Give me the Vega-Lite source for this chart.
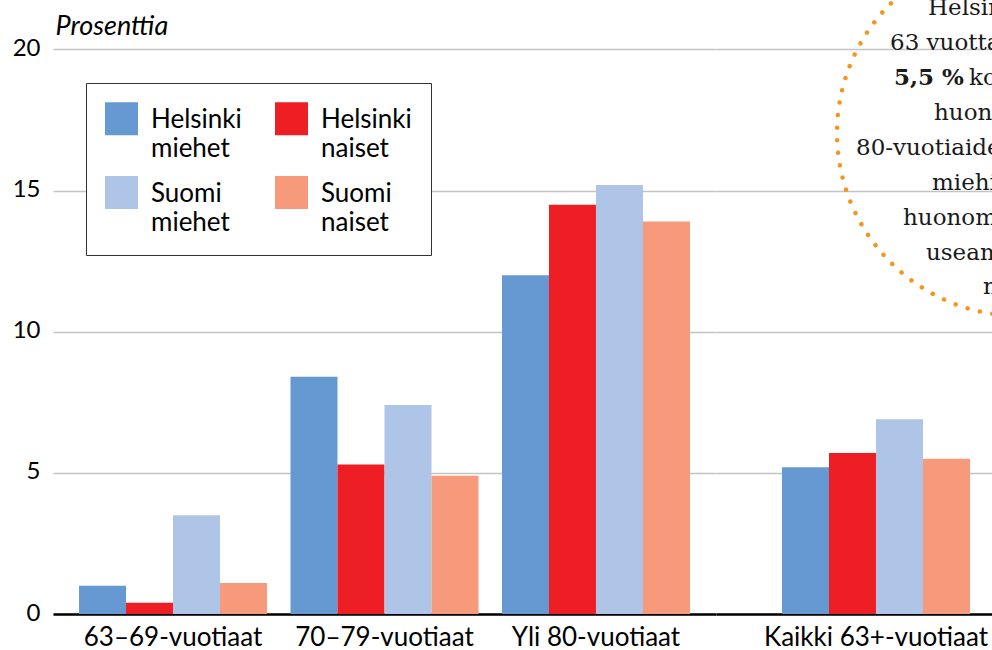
{
  "$schema": "https://vega.github.io/schema/vega-lite/v6.json",
  "padding": {"left": 5, "top": 0, "right": 0, "bottom": 0},
  "background": "white",
  "config": {
    "font": "Lato",
    "view": {"stroke": null},
    "style": {"guide-label": {"lineHeight": 29, "dy": 9}},
    "axis": {"labelFont": "Lato", "labelFontSize": 24, "labelColor": "black"}
  },
  "data": {
    "values": [
      {"group": "63–69-vuotiaat", "series": "Helsinki miehet", "value": 1.0},
      {"group": "63–69-vuotiaat", "series": "Helsinki naiset", "value": 0.4},
      {"group": "63–69-vuotiaat", "series": "Suomi miehet", "value": 3.5},
      {"group": "63–69-vuotiaat", "series": "Suomi naiset", "value": 1.1},
      {"group": "70–79-vuotiaat", "series": "Helsinki miehet", "value": 8.4},
      {"group": "70–79-vuotiaat", "series": "Helsinki naiset", "value": 5.3},
      {"group": "70–79-vuotiaat", "series": "Suomi miehet", "value": 7.4},
      {"group": "70–79-vuotiaat", "series": "Suomi naiset", "value": 4.9},
      {"group": "Yli 80-vuotiaat", "series": "Helsinki miehet", "value": 12.0},
      {"group": "Yli 80-vuotiaat", "series": "Helsinki naiset", "value": 14.5},
      {"group": "Yli 80-vuotiaat", "series": "Suomi miehet", "value": 15.2},
      {"group": "Yli 80-vuotiaat", "series": "Suomi naiset", "value": 13.9},
      {"group": "Kaikki 63+-vuotiaat", "series": "Helsinki miehet", "value": 5.2},
      {"group": "Kaikki 63+-vuotiaat", "series": "Helsinki naiset", "value": 5.7},
      {"group": "Kaikki 63+-vuotiaat", "series": "Suomi miehet", "value": 6.9},
      {"group": "Kaikki 63+-vuotiaat", "series": "Suomi naiset", "value": 5.5}
    ]
  },
  "spacing": 0,
  "resolve": {"scale": {"x": "independent", "y": "independent", "color": "shared"}, "legend": {"color": "shared"}},
  "hconcat": [
    {
      "width": 663,
      "height": 614,
      "transform": [{"filter": "datum.group !== 'Kaikki 63+-vuotiaat'"}],
      "mark": {"type": "bar"},
      "encoding": {
        "x": {
          "field": "group", "type": "nominal",
          "sort": ["63–69-vuotiaat", "70–79-vuotiaat", "Yli 80-vuotiaat"],
          "scale": {"paddingInner": 0.111, "paddingOuter": 0.123},
          "axis": {"title": null, "labelAngle": 0, "ticks": false, "domainColor": "black", "domainWidth": 2.6, "labelPadding": 1, "labelFontSize": 26, "labelLimit": 0, "grid": false}
        },
        "xOffset": {
          "field": "series", "type": "nominal",
          "sort": ["Helsinki miehet", "Helsinki naiset", "Suomi miehet", "Suomi naiset"],
          "scale": {"paddingInner": 0, "paddingOuter": 0}
        },
        "y": {
          "field": "value", "type": "quantitative",
          "scale": {"domain": [0, 21.75], "nice": false},
          "axis": {
            "values": [0, 5, 10, 15, 20], "domain": false, "ticks": false, "tickSize": 0,
            "grid": true, "gridColor": "#c4c4c4", "gridWidth": 1.3,
            "labelPadding": 13, "labelOffset": -10, "minExtent": 48, "maxExtent": 48,
            "title": "Prosenttia", "titleAngle": 0, "titleX": 2, "titleY": 34,
            "titleAlign": "left", "titleBaseline": "alphabetic", "titleFont": "Lato",
            "titleFontSize": 27, "titleFontStyle": "italic", "titleFontWeight": "normal", "titleColor": "black"
          }
        },
        "color": {
          "field": "series", "type": "nominal",
          "scale": {
            "domain": ["Helsinki miehet", "Helsinki naiset", "Suomi miehet", "Suomi naiset"],
            "range": ["#6699d2", "#ed1f24", "#aec5e7", "#f7997b"]
          },
          "legend": {
            "orient": "none", "legendX": 33, "legendY": 83, "columns": 2, "direction": "horizontal", "title": null,
            "symbolType": "square", "symbolSize": 1089, "symbolStrokeWidth": 0, "symbolOpacity": 1,
            "labelFont": "Lato", "labelFontSize": 26, "labelColor": "black", "labelOffset": 13,
            "labelBaseline": "alphabetic", "labelLimit": 0,
            "labelExpr": "split(datum.label, ' ')",
            "columnPadding": 33, "rowPadding": 14, "padding": 19,
            "strokeColor": "#333333", "fillColor": "white"
          }
        }
      }
    },
    {
      "width": 276,
      "height": 614,
      "layer": [
        {
          "transform": [{"filter": "datum.group === 'Kaikki 63+-vuotiaat'"}],
          "mark": {"type": "bar"},
          "encoding": {
            "x": {
              "field": "group", "type": "nominal",
              "scale": {"paddingInner": 0.111, "paddingOuter": 0.208, "align": 0.75},
              "axis": {"title": null, "labelAngle": 0, "ticks": false, "domainColor": "black", "domainWidth": 2.6, "labelPadding": 1, "labelFontSize": 26, "labelLimit": 0, "grid": false}
            },
            "xOffset": {
              "field": "series", "type": "nominal",
              "sort": ["Helsinki miehet", "Helsinki naiset", "Suomi miehet", "Suomi naiset"],
              "scale": {"paddingInner": 0, "paddingOuter": 0}
            },
            "y": {
              "field": "value", "type": "quantitative",
              "scale": {"domain": [0, 21.75], "nice": false},
              "axis": {
                "values": [0, 5, 10, 15, 20], "domain": false, "ticks": false, "labels": false,
                "grid": true, "gridColor": "#c4c4c4", "gridWidth": 1.3,
                "title": null, "minExtent": 0, "maxExtent": 0
              }
            },
            "color": {
              "field": "series", "type": "nominal",
              "scale": {
                "domain": ["Helsinki miehet", "Helsinki naiset", "Suomi miehet", "Suomi naiset"],
                "range": ["#6699d2", "#ed1f24", "#aec5e7", "#f7997b"]
              }
            }
          }
        },
        {
          "data": {"values": [{}]},
          "mark": {"type": "point", "shape": "circle", "size": 133956, "filled": false, "fill": "white", "fillOpacity": 0,
                   "color": "#f7941d", "stroke": "#f7941d", "strokeWidth": 4.5, "strokeDash": [0.01, 12.6], "strokeCap": "round",
                   "opacity": 1, "x": 304, "y": 133, "clip": true}
        },
        {"data": {"values": [{}]}, "mark": {"type": "text", "text": "Helsingissä yli", "x": 212, "y": 15, "align": "left", "baseline": "alphabetic", "font": "DejaVu Serif", "fontSize": 23, "color": "#1a1a1a", "clip": true}},
        {"data": {"values": [{}]}, "mark": {"type": "text", "text": "63 vuotta täyttäneistä", "x": 174, "y": 50, "align": "left", "baseline": "alphabetic", "font": "DejaVu Serif", "fontSize": 23, "color": "#1a1a1a", "clip": true}},
        {"data": {"values": [{}]}, "mark": {"type": "text", "text": "5,5 %", "x": 178, "y": 85, "align": "left", "baseline": "alphabetic", "font": "DejaVu Serif", "fontSize": 23, "fontWeight": "bold", "color": "#1a1a1a", "clip": true}},
        {"data": {"values": [{}]}, "mark": {"type": "text", "text": "koki terveytensä", "x": 253, "y": 85, "align": "left", "baseline": "alphabetic", "font": "DejaVu Serif", "fontSize": 23, "color": "#1a1a1a", "clip": true}},
        {"data": {"values": [{}]}, "mark": {"type": "text", "text": "huonoksi. Yli", "x": 218, "y": 120, "align": "left", "baseline": "alphabetic", "font": "DejaVu Serif", "fontSize": 23, "color": "#1a1a1a", "clip": true}},
        {"data": {"values": [{}]}, "mark": {"type": "text", "text": "80-vuotiaiden", "x": 140, "y": 155, "align": "left", "baseline": "alphabetic", "font": "DejaVu Serif", "fontSize": 23, "color": "#1a1a1a", "clip": true}},
        {"data": {"values": [{}]}, "mark": {"type": "text", "text": "miehistä", "x": 216, "y": 190, "align": "left", "baseline": "alphabetic", "font": "DejaVu Serif", "fontSize": 23, "color": "#1a1a1a", "clip": true}},
        {"data": {"values": [{}]}, "mark": {"type": "text", "text": "huonommaksi", "x": 187, "y": 225, "align": "left", "baseline": "alphabetic", "font": "DejaVu Serif", "fontSize": 23, "color": "#1a1a1a", "clip": true}},
        {"data": {"values": [{}]}, "mark": {"type": "text", "text": "useammin", "x": 210, "y": 260, "align": "left", "baseline": "alphabetic", "font": "DejaVu Serif", "fontSize": 23, "color": "#1a1a1a", "clip": true}},
        {"data": {"values": [{}]}, "mark": {"type": "text", "text": "naiset.", "x": 267, "y": 294, "align": "left", "baseline": "alphabetic", "font": "DejaVu Serif", "fontSize": 23, "color": "#1a1a1a", "clip": true}}
      ]
    }
  ]
}
